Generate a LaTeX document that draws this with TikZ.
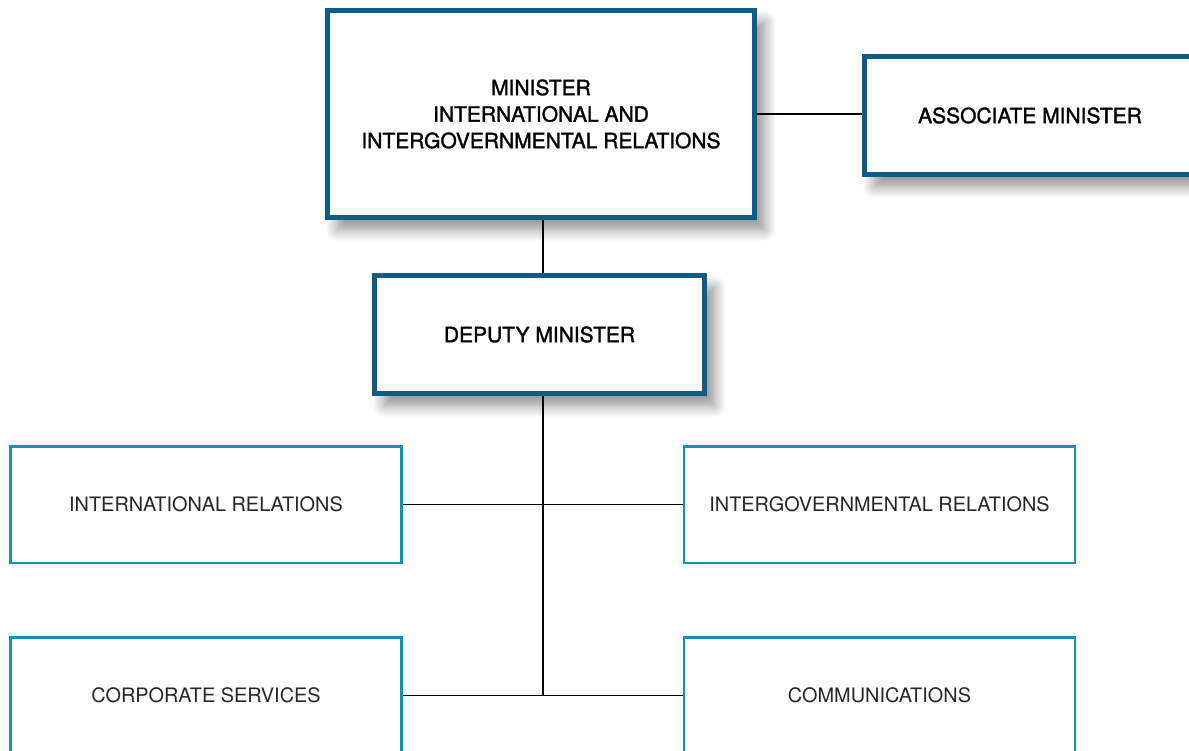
\documentclass[tikz,border=0pt]{standalone}
\usepackage{fontspec}
\usepackage{tikz}
\usepackage{xcolor}
\usetikzlibrary{shadows.blur}
\setmainfont{TeX Gyre Heros}
\newfontfamily\headfont{TeX Gyre Heros}[FakeBold=1.5]
\definecolor{deepblue}{HTML}{0E5C86}
\definecolor{unitblue}{HTML}{1B8DB5}
\begin{document}
\begin{tikzpicture}[x=1pt, y=-1pt, line width=1.3pt,
  headbox/.style={draw=deepblue, line width=5pt, fill=white, align=center, inner sep=0pt,
    font=\fontsize{21}{26.5}\selectfont\headfont,
    blur shadow={shadow xshift=10pt, shadow yshift=-12pt, shadow blur radius=12pt, shadow blur steps=14, shadow opacity=45}},
  unitbox/.style={draw=unitblue, line width=2.5pt, fill=white, inner sep=0pt, text=black!85,
    minimum width=391pt, minimum height=116.5pt, font=\fontsize{19.9}{24}\selectfont}]
\useasboundingbox (0,0) rectangle (1189,751);
\clip (0,0) rectangle (1189,751);
% top of the chart
\node[headbox, minimum width=427pt, minimum height=207pt] (minister) at (541,114) {MINISTER\\INTERNATIONAL AND\\INTERGOVERNMENTAL RELATIONS};
\node[headbox, minimum width=331pt, minimum height=118pt] (assoc) at (1030,115.5) {ASSOCIATE MINISTER};
\node[headbox, minimum width=330pt, minimum height=118pt] (deputy) at (539.5,334.5) {DEPUTY MINISTER};
% branches
\node[unitbox] (intl) at (206,504.5) {INTERNATIONAL RELATIONS};
\node[unitbox] (intergov) at (879.5,504.5) {INTERGOVERNMENTAL RELATIONS};
\node[unitbox] (corp) at (206,695.5) {CORPORATE SERVICES};
\node[unitbox] (comm) at (879.5,695.5) {COMMUNICATIONS};
\coordinate (spine) at (543,695.5);
\draw (minister.east) -- (minister.east -| assoc.west);
\draw (minister.south -| spine) -- (deputy.north -| spine);
\draw (deputy.south -| spine) -- (spine);
\draw (intl.east) -- (intergov.west);
\draw (corp.east) -- (comm.west);
\end{tikzpicture}
\end{document}
